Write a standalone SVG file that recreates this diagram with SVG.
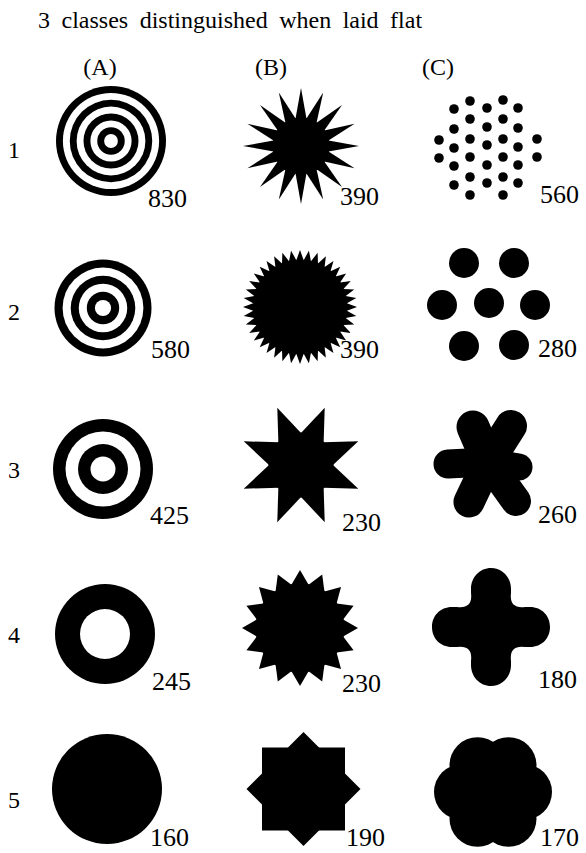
<svg xmlns="http://www.w3.org/2000/svg" width="586" height="853" viewBox="0 0 586 853">
<style>
.t{font-size:24px;word-spacing:5.5px}
.h{font-size:24px;text-anchor:middle}
.r{font-size:24px}
.n{font-size:26px}
.b{fill:#000}
.w{fill:#fff}
</style>
<defs>
<polygon id="k1" points="0,0 5.46,-27.46 0,-58 -5.46,-27.46"/>
<polygon id="k2" points="0,0 3.69,-46.85 0,-57 -3.69,-46.85"/>
<polygon id="k3" points="0,0 12.25,-29.56 0,-62 -12.25,-29.56"/>
<polygon id="k4" points="0,0 8.58,-43.16 0,-58 -8.58,-43.16"/>
<g id="q2"><use href="#k2"/><use href="#k2" transform="rotate(9)"/><use href="#k2" transform="rotate(18)"/><use href="#k2" transform="rotate(27)"/><use href="#k2" transform="rotate(36)"/><use href="#k2" transform="rotate(45)"/><use href="#k2" transform="rotate(54)"/><use href="#k2" transform="rotate(63)"/><use href="#k2" transform="rotate(72)"/><use href="#k2" transform="rotate(81)"/></g>
</defs>
<rect width="586" height="853" fill="#fff"/>
<g font-family="'Liberation Serif','Times New Roman',Tinos,'DejaVu Serif',serif" fill="#000">
<text class="t" x="38" y="28">3 classes distinguished when laid flat</text>
<g id="headers">
<text class="h" x="100" y="75">(A)</text>
<text class="h" x="271" y="75">(B)</text>
<text class="h" x="438" y="75">(C)</text>
</g>
<g id="rowlabels">
<text class="r" x="8" y="158">1</text>
<text class="r" x="8" y="320">2</text>
<text class="r" x="8" y="478">3</text>
<text class="r" x="8" y="643">4</text>
<text class="r" x="8" y="808">5</text>
</g>
</g>
<g id="A1">
<circle class="b" cx="111" cy="141" r="55"/><circle class="w" cx="111" cy="141" r="48.1"/>
<circle class="b" cx="111" cy="141" r="41.25"/><circle class="w" cx="111" cy="141" r="34.4"/>
<circle class="b" cx="111" cy="141" r="27.5"/><circle class="w" cx="111" cy="141" r="20.6"/>
<circle class="b" cx="111" cy="141" r="13.75"/><circle class="w" cx="111" cy="141" r="6.9"/>
</g>
<g id="A2">
<circle class="b" cx="103" cy="308" r="48.5"/><circle class="w" cx="103" cy="308" r="40.4"/>
<circle class="b" cx="103" cy="308" r="32.3"/><circle class="w" cx="103" cy="308" r="24.25"/>
<circle class="b" cx="103" cy="308" r="16.2"/><circle class="w" cx="103" cy="308" r="8.1"/>
</g>
<g id="A3">
<circle class="b" cx="103" cy="469" r="50"/><circle class="w" cx="103" cy="469" r="37.5"/>
<circle class="b" cx="103" cy="469" r="25"/><circle class="w" cx="103" cy="469" r="12.5"/>
</g>
<g id="A4">
<circle class="b" cx="105" cy="634" r="50"/><circle class="w" cx="105" cy="634" r="25"/>
</g>
<g id="A5">
<circle class="b" cx="107" cy="789" r="55"/>
</g>
<g id="B1" transform="translate(301,146)">
<circle r="28.5"/>
<use href="#k1"/><use href="#k1" transform="rotate(22.5)"/><use href="#k1" transform="rotate(45)"/><use href="#k1" transform="rotate(67.5)"/>
<use href="#k1" transform="rotate(90)"/><use href="#k1" transform="rotate(112.5)"/><use href="#k1" transform="rotate(135)"/><use href="#k1" transform="rotate(157.5)"/>
<use href="#k1" transform="rotate(180)"/><use href="#k1" transform="rotate(202.5)"/><use href="#k1" transform="rotate(225)"/><use href="#k1" transform="rotate(247.5)"/>
<use href="#k1" transform="rotate(270)"/><use href="#k1" transform="rotate(292.5)"/><use href="#k1" transform="rotate(315)"/><use href="#k1" transform="rotate(337.5)"/>
</g>
<g id="B2" transform="translate(300,307)">
<circle r="47.3"/>
<use href="#q2"/><use href="#q2" transform="rotate(90)"/><use href="#q2" transform="rotate(180)"/><use href="#q2" transform="rotate(270)"/>
</g>
<g id="B3" transform="translate(301,465)">
<circle r="32.5"/>
<use href="#k3" transform="rotate(22.5)"/><use href="#k3" transform="rotate(67.5)"/><use href="#k3" transform="rotate(112.5)"/><use href="#k3" transform="rotate(157.5)"/>
<use href="#k3" transform="rotate(202.5)"/><use href="#k3" transform="rotate(247.5)"/><use href="#k3" transform="rotate(292.5)"/><use href="#k3" transform="rotate(337.5)"/>
</g>
<g id="B4" transform="translate(300,628)">
<circle r="44.5"/>
<use href="#k4"/><use href="#k4" transform="rotate(22.5)"/><use href="#k4" transform="rotate(45)"/><use href="#k4" transform="rotate(67.5)"/>
<use href="#k4" transform="rotate(90)"/><use href="#k4" transform="rotate(112.5)"/><use href="#k4" transform="rotate(135)"/><use href="#k4" transform="rotate(157.5)"/>
<use href="#k4" transform="rotate(180)"/><use href="#k4" transform="rotate(202.5)"/><use href="#k4" transform="rotate(225)"/><use href="#k4" transform="rotate(247.5)"/>
<use href="#k4" transform="rotate(270)"/><use href="#k4" transform="rotate(292.5)"/><use href="#k4" transform="rotate(315)"/><use href="#k4" transform="rotate(337.5)"/>
</g>
<g id="B5">
<rect class="b" x="262" y="747.5" width="83" height="83"/>
<polygon class="b" points="303.5,732 360.5,789 303.5,846 246.5,789"/>
</g>
<g id="C1" class="b">
<circle cx="439" cy="140" r="4.8"/><circle cx="439" cy="158" r="4.8"/>
<circle cx="454" cy="109" r="4.8"/><circle cx="454" cy="129" r="4.8"/><circle cx="454" cy="148" r="4.8"/><circle cx="454" cy="166" r="4.8"/><circle cx="454" cy="185" r="4.8"/>
<circle cx="470" cy="101" r="4.8"/><circle cx="470" cy="119" r="4.8"/><circle cx="470" cy="139" r="4.8"/><circle cx="470" cy="157" r="4.8"/><circle cx="470" cy="177" r="4.8"/><circle cx="470" cy="195" r="4.8"/>
<circle cx="487" cy="108" r="4.8"/><circle cx="487" cy="127" r="4.8"/><circle cx="487" cy="145" r="4.8"/><circle cx="487" cy="165" r="4.8"/><circle cx="487" cy="183" r="4.8"/>
<circle cx="503" cy="100" r="4.8"/><circle cx="503" cy="119" r="4.8"/><circle cx="503" cy="139" r="4.8"/><circle cx="503" cy="157" r="4.8"/><circle cx="503" cy="177" r="4.8"/><circle cx="503" cy="195" r="4.8"/>
<circle cx="518" cy="108" r="4.8"/><circle cx="518" cy="128" r="4.8"/><circle cx="518" cy="147" r="4.8"/><circle cx="518" cy="165" r="4.8"/><circle cx="518" cy="183" r="4.8"/>
<circle cx="537" cy="139" r="4.8"/><circle cx="537" cy="157" r="4.8"/>
</g>
<g id="C2" class="b">
<circle cx="464" cy="263" r="15"/><circle cx="514" cy="263" r="15"/>
<circle cx="442" cy="305" r="15"/><circle cx="489" cy="303" r="15"/><circle cx="535" cy="305" r="15"/>
<circle cx="464" cy="346" r="15"/><circle cx="514" cy="345" r="15"/>
</g>
<g id="C3">
<g stroke="#000" stroke-linecap="round" fill="none">
<line x1="488" y1="462" x2="473" y2="427" stroke-width="33"/>
<line x1="488" y1="462" x2="511" y2="426" stroke-width="32"/>
<line x1="488" y1="462" x2="448" y2="464" stroke-width="29"/>
<line x1="488" y1="462" x2="519" y2="467" stroke-width="27"/>
<line x1="488" y1="462" x2="469" y2="502" stroke-width="31"/>
<line x1="488" y1="462" x2="516" y2="501" stroke-width="30"/>
</g>
<circle class="b" cx="488" cy="463" r="22"/>
</g>
<g id="C4">
<path class="b" d="M491,568 C502,568 511,577 511,589 L511,593 Q509,609 525,607 L530,607 C542,607 550,616 550,627 C550,638 542,647 530,647 L525,647 Q509,645 511,661 L511,665 C511,677 502,686 491,686 C480,686 471,677 471,665 L471,661 Q473,645 457,647 L452,647 C440,647 432,638 432,627 C432,616 440,607 452,607 L457,607 Q473,609 471,593 L471,589 C471,577 480,568 491,568 Z"/>
</g>
<g id="C5" class="b">
<circle cx="493" cy="792" r="36"/>
<circle cx="508.5" cy="765.2" r="28"/><circle cx="524" cy="792" r="28"/><circle cx="508.5" cy="818.8" r="28"/>
<circle cx="477.5" cy="818.8" r="28"/><circle cx="462" cy="792" r="28"/><circle cx="477.5" cy="765.2" r="28"/>
</g>
<g id="numbers" font-family="'Liberation Serif','Times New Roman',Tinos,'DejaVu Serif',serif" fill="#000">
<text class="n" x="148" y="207">830</text>
<text class="n" x="151" y="358">580</text>
<text class="n" x="150" y="524">425</text>
<text class="n" x="152" y="690">245</text>
<text class="n" x="150" y="846">160</text>
<text class="n" x="340" y="205">390</text>
<text class="n" x="340" y="358">390</text>
<text class="n" x="342" y="531">230</text>
<text class="n" x="342" y="692">230</text>
<text class="n" x="346" y="846">190</text>
<text class="n" x="540" y="203">560</text>
<text class="n" x="538" y="357">280</text>
<text class="n" x="538" y="523">260</text>
<text class="n" x="538" y="688">180</text>
<text class="n" x="540" y="846">170</text>
</g>
</svg>
